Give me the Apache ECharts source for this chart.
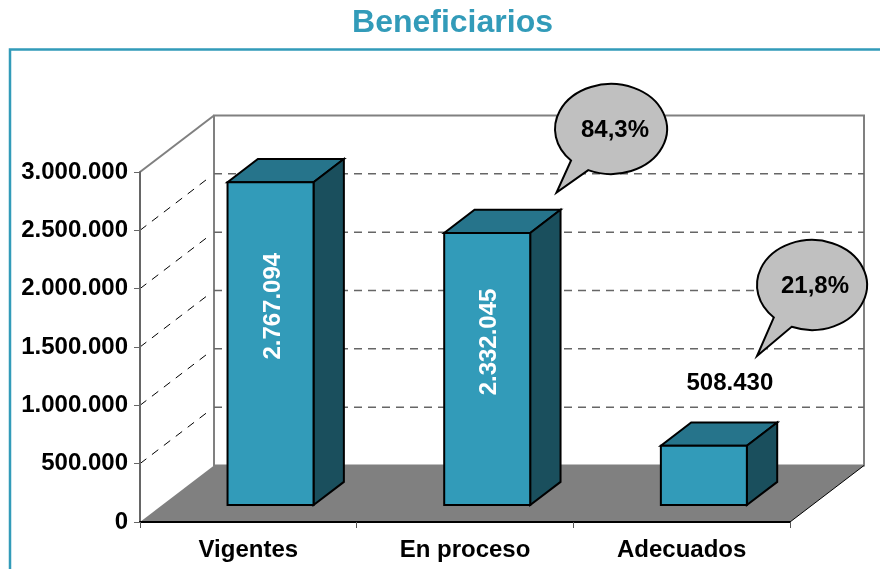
<!DOCTYPE html>
<html><head><meta charset="utf-8">
<style>html,body{margin:0;padding:0;background:#fff}#c{width:880px;height:569px}</style>
<script src="https://cdn.jsdelivr.net/npm/echarts@6/dist/echarts.min.js"></script>
</head><body><div id="c"></div>
<script>
const categories = ['Vigentes', 'En proceso', 'Adecuados'];
const beneficiarios = [2767094, 2332045, 508430];
const yTicks = [0, 500000, 1000000, 1500000, 2000000, 2500000, 3000000];
const percentLabels = ['84,3%', '21,8%'];

const DX = 74, DY = -56.5;            // depth of the 3D box
const BAR_DEPTH = [0.30, 0.71];       // bar front / back as fractions of the depth
const BAR_HALF = 43;
const FAMILY = '"Liberation Sans", Arial, sans-serif';
const FONT = 'bold 24px ' + FAMILY;
const FRONT = '#329BB9', TOP = '#26748B', SIDE = '#1A4F5D', GREY = '#808080';
// label centre relative to the top-centre of the bar's front face
const LABEL_OFFSET = [[3, 124, true], [2, 109, true], [26, -62, false]];
// callout shapes (annotation layout, in page pixels)
const CALLOUTS = [
  {cx:611, cy:129, rx:56, ry:45, tip:[556.5,192.5], b1:[571.7,160], b2:[588.3,170], tx:615, ty:130},
  {cx:812, cy:285, rx:55, ry:45, tip:[757,356], b1:[774,317.3], b2:[791.7,326.7], tx:815, ty:286}
];
const fmt = v => String(v).replace(/\B(?=(\d{3})+$)/g, '.');

function renderScene(params, api) {
  const cs = params.coordSys;
  const L = cs.x, R = cs.x + cs.width, B = cs.y + cs.height, T = cs.y;
  const kids = [];
  kids.push({type:'polygon', shape:{points:[[L+DX,T+DY],[R+DX,T+DY],[R+DX,B+DY],[L+DX,B+DY]]}, style:{fill:'#fff',stroke:GREY,lineWidth:2}});
  kids.push({type:'line', shape:{x1:L,y1:T,x2:L+DX,y2:T+DY}, style:{stroke:GREY,lineWidth:2}});
  yTicks.forEach(v => {
    if (v === 0 || v === 3000000) return;
    const y = api.coord([0, v])[1];
    kids.push({type:'line', shape:{x1:L+DX,y1:y+DY,x2:R+DX,y2:y+DY}, style:{stroke:'#666',lineWidth:1.5,lineDash:[8,6]}});
    kids.push({type:'line', shape:{x1:L,y1:y,x2:L+DX*0.92,y2:y+DY*0.92}, style:{stroke:'#000',lineWidth:1,lineDash:[8,7]}});
  });
  kids.push({type:'polygon', shape:{points:[[L,B],[R,B],[R+DX,B+DY],[L+DX,B+DY]]}, style:{fill:GREY}});
  kids.push({type:'line', shape:{x1:R,y1:B,x2:R+DX,y2:B+DY}, style:{stroke:'#000',lineWidth:1}});
  return {type:'group', children:kids};
}

function renderBar(params, api) {
  const i = api.value(0), v = api.value(1);
  const c = api.coord([i, v]), z = api.coord([i, 0]);
  const f0 = BAR_DEPTH[0], f1 = BAR_DEPTH[1];
  const cx = c[0] + DX * f0, top = c[1] + DY * f0, bot = z[1] + DY * f0;
  const l = cx - BAR_HALF, r = cx + BAR_HALF;
  const dx = DX * (f1 - f0), dy = DY * (f1 - f0);
  const st = fill => ({fill, stroke:'#000', lineWidth:2, lineJoin:'miter'});
  const o = LABEL_OFFSET[params.dataIndex];
  return {type:'group', children:[
    {type:'polygon', shape:{points:[[l,top],[r,top],[r+dx,top+dy],[l+dx,top+dy]]}, style:st(TOP)},
    {type:'polygon', shape:{points:[[r,top],[r+dx,top+dy],[r+dx,bot+dy],[r,bot]]}, style:st(SIDE)},
    {type:'rect', shape:{x:l,y:top,width:r-l,height:bot-top}, style:st(FRONT)},
    {type:'text', x:cx+o[0], y:top+o[1], rotation:o[2]?Math.PI/2:0,
      style:{text:fmt(v), font:FONT, fill:o[2]?'#fff':'#000', align:'center', verticalAlign:'middle'}}
  ]};
}

function renderCallout(params) {
  const k = CALLOUTS[params.dataIndex];
  const snap = p => {
    const a = Math.atan2((p[1]-k.cy)/k.ry, (p[0]-k.cx)/k.rx);
    return [k.cx + k.rx*Math.cos(a), k.cy + k.ry*Math.sin(a)];
  };
  const a = snap(k.b1), b = snap(k.b2);
  const d = 'M'+b[0]+' '+b[1]+' A'+k.rx+' '+k.ry+' 0 1 0 '+a[0]+' '+a[1]+' L'+k.tip[0]+' '+k.tip[1]+' Z';
  return {type:'group', children:[
    {type:'path', shape:{pathData:d}, style:{fill:'#C0C0C0',stroke:'#000',lineWidth:2}},
    {type:'text', x:k.tx, y:k.ty, style:{text:percentLabels[params.dataIndex], font:FONT, fill:'#000', align:'center', verticalAlign:'middle'}}
  ]};
}

const chart = echarts.init(document.getElementById('c'), null, {renderer:'canvas'});
chart.setOption({
  animation:false,
  backgroundColor:'#fff',
  title:{text:'Beneficiarios', left:447.5, top:2, textAlign:'center',
    textStyle:{fontFamily:FAMILY, fontSize:32, fontWeight:'bold', color:'#329BB9'}},
  grid:{left:140, right:90, top:172, bottom:47},
  xAxis:{type:'category', data:categories, z:10,
    axisLine:{lineStyle:{color:'#000',width:2}},
    axisTick:{show:true, length:6, lineStyle:{color:'#555',width:1}},
    axisLabel:{margin:16, color:'#000', fontFamily:FAMILY, fontSize:24, fontWeight:'bold'},
    splitLine:{show:false}},
  yAxis:{type:'value', min:0, max:3000000, interval:500000, z:10,
    axisLine:{show:true, lineStyle:{color:'#666',width:2}},
    axisTick:{show:true, length:6, lineStyle:{color:'#666',width:1}},
    axisLabel:{margin:12, color:'#000', fontFamily:FAMILY, fontSize:24, fontWeight:'bold', formatter:fmt},
    splitLine:{show:false}},
  graphic:{elements:[
    {type:'polyline', shape:{points:[[10,569],[10,49.5],[880,49.5]]}, style:{fill:'none',stroke:'#329BB9',lineWidth:2.5}}
  ]},
  series:[
    {type:'custom', z:1, silent:true, renderItem:renderScene, data:[[0,0]], encode:{x:0,y:1}},
    {type:'custom', z:3, name:'Beneficiarios', renderItem:renderBar, encode:{x:0,y:1},
      data:categories.map((c,i)=>[i,beneficiarios[i]])},
    {type:'custom', z:4, silent:true, renderItem:renderCallout, data:percentLabels.map((p,i)=>[i+1,0]), encode:{x:0,y:1}}
  ]
});
</script></body></html>
